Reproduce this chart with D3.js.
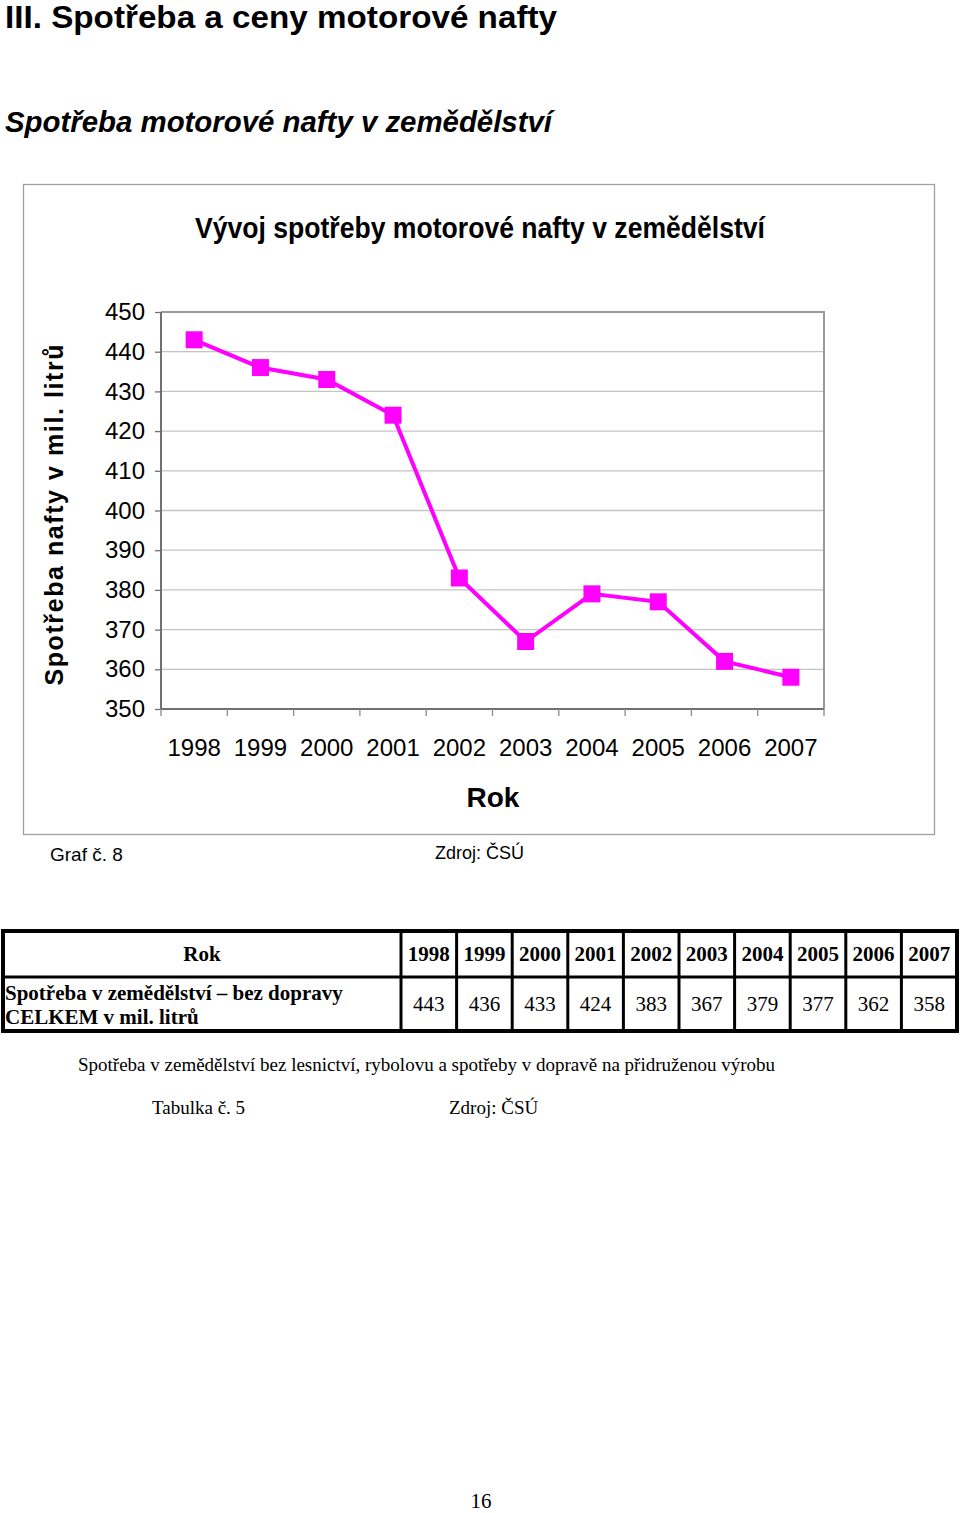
<!DOCTYPE html>
<html lang="cs">
<head>
<meta charset="utf-8">
<title>Spotřeba motorové nafty</title>
<script src="https://cdn.jsdelivr.net/npm/d3@7"></script>
<style>
	body { margin: 0; background: #fff; }
	svg { display: block; }
	.sans { font-family: "Liberation Sans", Arial, sans-serif; }
	.narrow { font-family: "Liberation Sans Narrow", "Arial Narrow", "Liberation Sans", sans-serif; }
	.serif { font-family: "Liberation Serif", "Times New Roman", serif; }
	.grid line { stroke: #c4c4c4; stroke-width: 1.3px; }
</style>
</head>
<body>
<div id="page"></div>
<script>
	var width = 960,
		height = 1513;

	// data
	var years = ["1998", "1999", "2000", "2001", "2002", "2003", "2004", "2005", "2006", "2007"];
	var consumption = [443, 436, 433, 424, 383, 367, 379, 377, 362, 358];
	var yTicks = [350, 360, 370, 380, 390, 400, 410, 420, 430, 440, 450];

	var svg = d3.select("#page")
		.append("svg")
		.attr("width", width)
		.attr("height", height);

	// page headings
	svg.append("text").attr("class", "sans")
		.attr("x", 5).attr("y", 28)
		.attr("font-size", 31).attr("font-weight", "bold")
		.attr("textLength", 552).attr("lengthAdjust", "spacingAndGlyphs")
		.text("III. Spotřeba a ceny motorové nafty");

	svg.append("text").attr("class", "sans")
		.attr("x", 5).attr("y", 132)
		.attr("font-size", 30).attr("font-weight", "bold").attr("font-style", "italic")
		.attr("textLength", 547).attr("lengthAdjust", "spacingAndGlyphs")
		.text("Spotřeba motorové nafty v zemědělství");

	// chart frame
	svg.append("rect")
		.attr("x", 23.5).attr("y", 184.5)
		.attr("width", 911).attr("height", 650)
		.attr("fill", "#fff").attr("stroke", "#a0a0a0").attr("stroke-width", 1.3);

	svg.append("text").attr("class", "narrow")
		.attr("x", 480).attr("y", 238)
		.attr("text-anchor", "middle")
		.attr("font-size", 30).attr("font-weight", "bold")
		.attr("textLength", 570).attr("lengthAdjust", "spacingAndGlyphs")
		.text("Vývoj spotřeby motorové nafty v zemědělství");

	var plot = { left: 161, top: 312, right: 824, bottom: 709 };

	var x = d3.scaleBand()
		.domain(years)
		.range([plot.left, plot.right]);

	var y = d3.scaleLinear()
		.domain([350, 450])
		.range([plot.bottom, plot.top]);

	// gridlines
	svg.append("g").attr("class", "grid")
		.selectAll("line")
		.data(yTicks.slice(1, -1))
		.enter().append("line")
		.attr("x1", plot.left).attr("x2", plot.right)
		.attr("y1", function (d) { return y(d); })
		.attr("y2", function (d) { return y(d); });

	// plot border top/right
	svg.append("path")
		.attr("d", "M" + plot.left + "," + plot.top + "H" + plot.right + "V" + plot.bottom)
		.attr("fill", "none").attr("stroke", "#9a9a9a").attr("stroke-width", 2);

	// y axis
	var yAxis = svg.append("g")
		.attr("transform", "translate(" + plot.left + ",0)")
		.call(d3.axisLeft(y).tickValues(yTicks).tickSize(6).tickPadding(10).tickFormat(d3.format("d")));
	yAxis.select(".domain").attr("stroke", "#707070").attr("stroke-width", 2).attr("d", "M0," + plot.top + "V" + plot.bottom);
	yAxis.selectAll(".tick line").attr("stroke", "#707070").attr("stroke-width", 1.3);
	yAxis.selectAll(".tick text")
		.attr("class", "sans")
		.attr("font-size", 24).attr("fill", "#000")
		.attr("x", -16);

	// x axis
	var xAxis = svg.append("g")
		.attr("transform", "translate(0," + plot.bottom + ")")
		.call(d3.axisBottom(x).tickSize(0).tickPadding(30));
	xAxis.select(".domain").attr("stroke", "#707070").attr("stroke-width", 2).attr("d", "M" + plot.left + ",0H" + plot.right);
	xAxis.selectAll(".tick text")
		.attr("class", "sans")
		.attr("font-size", 24).attr("fill", "#000");

	// category separator ticks
	var edges = years.map(function (d) { return x(d); }).concat([x.range()[1]]);
	svg.append("g").selectAll("line")
		.data(edges)
		.enter().append("line")
		.attr("x1", function (d) { return d; }).attr("x2", function (d) { return d; })
		.attr("y1", plot.bottom).attr("y2", plot.bottom + 7)
		.attr("stroke", "#8a8a8a").attr("stroke-width", 1.3);

	// axis titles
	svg.append("text").attr("class", "sans")
		.attr("transform", "translate(63,515) rotate(-90)")
		.attr("text-anchor", "middle")
		.attr("font-size", 25).attr("font-weight", "bold")
		.attr("textLength", 341).attr("lengthAdjust", "spacing")
		.text("Spotřeba nafty v mil. litrů");

	svg.append("text").attr("class", "narrow")
		.attr("x", 493).attr("y", 807)
		.attr("text-anchor", "middle")
		.attr("font-size", 28).attr("font-weight", "bold")
		.text("Rok");

	// series line + markers
	var pts = years.map(function (d, i) { return { year: d, value: consumption[i] }; });

	var line = d3.line()
		.x(function (d) { return x(d.year) + x.bandwidth() / 2; })
		.y(function (d) { return y(d.value); });

	svg.append("path")
		.datum(pts)
		.attr("d", line)
		.attr("fill", "none")
		.attr("stroke", "#ff00ff")
		.attr("stroke-width", 4);

	var ms = 17;
	svg.append("g").selectAll("rect")
		.data(pts)
		.enter().append("rect")
		.attr("x", function (d) { return x(d.year) + x.bandwidth() / 2 - ms / 2; })
		.attr("y", function (d) { return y(d.value) - ms / 2; })
		.attr("width", ms).attr("height", ms)
		.attr("fill", "#ff00ff");

	// chart captions
	svg.append("text").attr("class", "sans")
		.attr("x", 50).attr("y", 861).attr("font-size", 19)
		.text("Graf č. 8");
	svg.append("text").attr("class", "sans")
		.attr("x", 435).attr("y", 859).attr("font-size", 18)
		.text("Zdroj: ČSÚ");

	// table
	var tbl = { left: 3, right: 957, top: 931, mid: 977, bottom: 1031, firstCol: 401 };
	var colX = d3.scaleBand()
		.domain(years)
		.range([tbl.firstCol, tbl.right]);

	var tg = svg.append("g");
	tg.append("rect")
		.attr("x", tbl.left).attr("y", tbl.top)
		.attr("width", tbl.right - tbl.left).attr("height", tbl.bottom - tbl.top)
		.attr("fill", "none").attr("stroke", "#000").attr("stroke-width", 4);
	tg.append("line")
		.attr("x1", tbl.left).attr("x2", tbl.right)
		.attr("y1", tbl.mid).attr("y2", tbl.mid)
		.attr("stroke", "#000").attr("stroke-width", 3);
	tg.selectAll("line.col")
		.data(years)
		.enter().append("line")
		.attr("class", "col")
		.attr("x1", function (d) { return colX(d); }).attr("x2", function (d) { return colX(d); })
		.attr("y1", tbl.top).attr("y2", tbl.bottom)
		.attr("stroke", "#000").attr("stroke-width", 3);

	tg.append("text").attr("class", "serif")
		.attr("x", 202).attr("y", 961)
		.attr("text-anchor", "middle")
		.attr("font-size", 21).attr("font-weight", "bold")
		.text("Rok");

	tg.selectAll("text.yr")
		.data(years)
		.enter().append("text")
		.attr("class", "serif yr")
		.attr("x", function (d) { return colX(d) + colX.bandwidth() / 2; })
		.attr("y", 961)
		.attr("text-anchor", "middle")
		.attr("font-size", 21).attr("font-weight", "bold")
		.text(function (d) { return d; });

	tg.selectAll("text.val")
		.data(pts)
		.enter().append("text")
		.attr("class", "serif val")
		.attr("x", function (d) { return colX(d.year) + colX.bandwidth() / 2; })
		.attr("y", 1011)
		.attr("text-anchor", "middle")
		.attr("font-size", 21)
		.text(function (d) { return d.value; });

	var rowLabel = ["Spotřeba v zemědělství – bez dopravy", "CELKEM v mil. litrů"];
	tg.selectAll("text.lbl")
		.data(rowLabel)
		.enter().append("text")
		.attr("class", "serif lbl")
		.attr("x", 5)
		.attr("y", function (d, i) { return 1000 + i * 24; })
		.attr("font-size", 21).attr("font-weight", "bold")
		.text(function (d) { return d; });

	// notes
	svg.append("text").attr("class", "serif")
		.attr("x", 78).attr("y", 1071).attr("font-size", 19)
		.text("Spotřeba v zemědělství bez lesnictví, rybolovu a spotřeby v dopravě na přidruženou výrobu");
	svg.append("text").attr("class", "serif")
		.attr("x", 152).attr("y", 1114).attr("font-size", 19)
		.text("Tabulka č. 5");
	svg.append("text").attr("class", "serif")
		.attr("x", 449).attr("y", 1114).attr("font-size", 19)
		.text("Zdroj: ČSÚ");

	svg.append("text").attr("class", "serif")
		.attr("x", 481).attr("y", 1508)
		.attr("text-anchor", "middle")
		.attr("font-size", 21)
		.text("16");
</script>
</body>
</html>
